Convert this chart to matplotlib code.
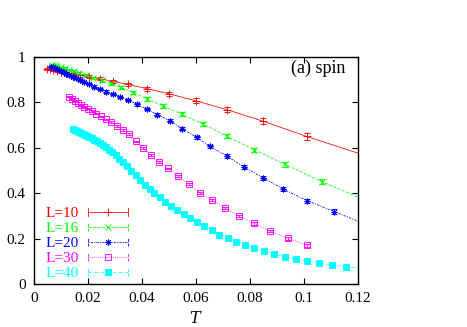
import matplotlib
matplotlib.use("Agg")
import matplotlib.pyplot as plt
from matplotlib.lines import Line2D
from matplotlib.legend_handler import HandlerLine2D

plt.rcParams['font.family'] = ['Liberation Serif', 'DejaVu Serif']
plt.rcParams['mathtext.fontset'] = 'dejavuserif'

# ---------------- data ----------------
labels = ["L=10", "L=16", "L=20", "L=30", "L=40"]
colors = ["#ff0000", "#00ff00", "#0000ff", "#ff00ff", "#00ffff"]

T10 = [0.0049, 0.0059, 0.0070, 0.0084, 0.0100, 0.0120, 0.0143, 0.0171, 0.0204,
       0.0244, 0.0291, 0.0348, 0.0417, 0.0500, 0.0599, 0.0714, 0.0849, 0.1010, 0.1230]
v10 = [0.947, 0.945, 0.943, 0.940, 0.936, 0.931, 0.926, 0.920, 0.913,
       0.904, 0.893, 0.879, 0.861, 0.838, 0.807, 0.768, 0.717, 0.650, 0.565]
e10 = [0.004, 0.004, 0.004, 0.004, 0.005, 0.005, 0.005, 0.006, 0.006,
       0.007, 0.007, 0.008, 0.009, 0.010, 0.011, 0.012, 0.013, 0.014, 0.015]

T16 = [0.0066, 0.0076, 0.0086, 0.0099, 0.0113, 0.0129, 0.0147, 0.0168, 0.0191,
       0.0219, 0.0250, 0.0285, 0.0322, 0.0368, 0.0420, 0.0479, 0.0547, 0.0627,
       0.0714, 0.0815, 0.0930, 0.1066, 0.1230]
v16 = [0.966, 0.963, 0.959, 0.955, 0.950, 0.944, 0.937, 0.929, 0.920,
       0.909, 0.897, 0.884, 0.866, 0.843, 0.815, 0.784, 0.748, 0.704,
       0.651, 0.592, 0.527, 0.451, 0.368]
e16 = [0.003, 0.003, 0.003, 0.003, 0.004, 0.004, 0.004, 0.004, 0.005,
       0.005, 0.005, 0.006, 0.006, 0.006, 0.007, 0.007, 0.008, 0.008,
       0.009, 0.009, 0.010, 0.010, 0.011]

T20 = [0.0064, 0.0070, 0.0077, 0.0084, 0.0092, 0.0101, 0.0110, 0.0120, 0.0131,
       0.0144, 0.0157, 0.0171, 0.0187, 0.0205, 0.0224, 0.0245, 0.0267, 0.0292,
       0.0319, 0.0349, 0.0382, 0.0417, 0.0457, 0.0504, 0.0547, 0.0603, 0.0652,
       0.0714, 0.0778, 0.0849, 0.0923, 0.1012, 0.1112, 0.1230]
v20 = [0.958, 0.954, 0.950, 0.946, 0.942, 0.937, 0.932, 0.926, 0.920,
       0.913, 0.906, 0.898, 0.889, 0.880, 0.870, 0.859, 0.848, 0.837,
       0.824, 0.810, 0.792, 0.771, 0.746, 0.719, 0.685, 0.646, 0.606,
       0.564, 0.515, 0.468, 0.418, 0.367, 0.319, 0.262]
e20 = [0.003, 0.003, 0.003, 0.003, 0.003, 0.003, 0.003, 0.004, 0.004,
       0.004, 0.004, 0.004, 0.004, 0.005, 0.005, 0.005, 0.005, 0.005,
       0.006, 0.006, 0.006, 0.006, 0.007, 0.007, 0.007, 0.007, 0.008,
       0.008, 0.008, 0.009, 0.009, 0.009, 0.010, 0.010]

T30 = [0.0131, 0.0141, 0.0151, 0.0162, 0.0174, 0.0187, 0.0200, 0.0215, 0.0231,
       0.0248, 0.0266, 0.0285, 0.0306, 0.0328, 0.0352, 0.0377, 0.0404, 0.0433,
       0.0464, 0.0498, 0.0534, 0.0573, 0.0615, 0.0660, 0.0708, 0.0760, 0.0815,
       0.0875, 0.0940, 0.1012]
v30 = [0.825, 0.816, 0.807, 0.798, 0.790, 0.781, 0.772, 0.762, 0.750,
       0.738, 0.725, 0.713, 0.697, 0.680, 0.660, 0.628, 0.598, 0.568,
       0.539, 0.509, 0.477, 0.439, 0.402, 0.369, 0.334, 0.298, 0.267,
       0.233, 0.201, 0.170]
e30 = [0.003] * 10 + [0.004] * 10 + [0.005] * 10

T40 = [0.0146, 0.0152, 0.0159, 0.0166, 0.0173, 0.0181, 0.0188, 0.0197, 0.0205,
       0.0214, 0.0224, 0.0234, 0.0244, 0.0255, 0.0266, 0.0278, 0.0290, 0.0303,
       0.0316, 0.0330, 0.0345, 0.0360, 0.0376, 0.0392, 0.0410, 0.0428, 0.0446,
       0.0466, 0.0486, 0.0508, 0.0530, 0.0554, 0.0578, 0.0603, 0.0630, 0.0658,
       0.0687, 0.0717, 0.0748, 0.0781, 0.0816, 0.0852, 0.0889, 0.0928, 0.0969,
       0.1012, 0.1056, 0.1103, 0.1155, 0.1215]
v40 = [0.682, 0.678, 0.674, 0.670, 0.666, 0.661, 0.657, 0.651, 0.646,
       0.641, 0.635, 0.628, 0.622, 0.614, 0.605, 0.590, 0.580, 0.568,
       0.551, 0.536, 0.519, 0.500, 0.480, 0.460, 0.438, 0.418, 0.401,
       0.383, 0.360, 0.343, 0.327, 0.310, 0.291, 0.272, 0.254, 0.236,
       0.218, 0.204, 0.185, 0.171, 0.157, 0.145, 0.132, 0.120, 0.111,
       0.101, 0.092, 0.085, 0.077, 0.068]
e40 = [0.002] * 50

xticks = [0, 0.02, 0.04, 0.06, 0.08, 0.1, 0.12]
xticklabels = ["0", "0.02", "0.04", "0.06", "0.08", "0.1", "0.12"]
yticks = [0, 0.2, 0.4, 0.6, 0.8, 1]
yticklabels = ["0", "0.2", "0.4", "0.6", "0.8", "1"]

series = [(T10, v10, e10), (T16, v16, e16), (T20, v20, e20), (T30, v30, e30), (T40, v40, e40)]

# ---------------- styles ----------------
styles = [
    dict(marker='+', ms=6, mfc='none', ls='-'),
    dict(marker='x', ms=4.5, mfc='none', ls=(0, (4, 2))),
    dict(marker=(8, 2, 0), ms=4.2, mfc='none', ls=(0, (1.5, 1.5, 3, 1.5))),
    dict(marker='s', ms=4.5, mfc='none', ls=(0, (1, 1.5))),
    dict(marker='s', ms=4.5, mfc=None, ls=(0, (4, 1.5, 1, 1.5))),
]

fig = plt.figure(figsize=(4.67, 3.27), dpi=100)
ax = fig.add_axes([34 / 467, 43 / 327, 324 / 467, 227 / 327])

handles = []
for (T, v, e), c, st, lab in zip(series, colors, styles, labels):
    mfc = c if st['mfc'] is None else 'none'
    ax.errorbar(T, v, yerr=e, color=c, lw=0.55, ls=st['ls'], marker=st['marker'],
                ms=st['ms'], mfc=mfc, mec=c, mew=0.65, elinewidth=0.6,
                capsize=2, capthick=0.6, clip_on=True)
    handles.append(Line2D([], [], color=c, lw=0.55, ls=st['ls'], marker=st['marker'],
                          ms=st['ms'], mfc=mfc, mec=c, mew=0.65))

ax.set_xlim(0, 0.12)
ax.set_ylim(0, 1)
ax.set_xticks(xticks)
ax.set_xticklabels(xticklabels)
ax.set_yticks(yticks)
ax.set_yticklabels(yticklabels)
ax.tick_params(direction='in', top=True, right=True, length=4, width=0.8,
               labelsize=11, pad=6)
for s in ax.spines.values():
    s.set_linewidth(1.0)

ax.set_xlabel("$T$", fontsize=11.5, labelpad=4)
ax.text(0.962, 0.95, "(a) spin", transform=ax.transAxes, ha='right', va='center',
        fontsize=13)


class EndCapHandler(HandlerLine2D):
    def create_artists(self, legend, orig_handle, xdescent, ydescent, width,
                       height, fontsize, trans):
        arts = super().create_artists(legend, orig_handle, xdescent, ydescent,
                                      width, height, fontsize, trans)
        yc = (height - ydescent) / 2
        h = 3.0
        for x in (-xdescent, -xdescent + width):
            ln = Line2D([x, x], [yc - h, yc + h], color=orig_handle.get_color(),
                        lw=0.6, ls=orig_handle.get_linestyle())
            ln.set_transform(trans)
            arts.append(ln)
        return arts


leg = ax.legend(handles, labels, loc='lower left',
                bbox_to_anchor=(12 / 324, 4 / 227), frameon=False,
                markerfirst=False, handlelength=2.6, handletextpad=0.6,
                labelspacing=0.08, borderpad=0, borderaxespad=0, fontsize=11,
                numpoints=1, handler_map={Line2D: EndCapHandler()})
for t, c in zip(leg.get_texts(), colors):
    t.set_color(c)

fig.savefig("out.png", dpi=100)
